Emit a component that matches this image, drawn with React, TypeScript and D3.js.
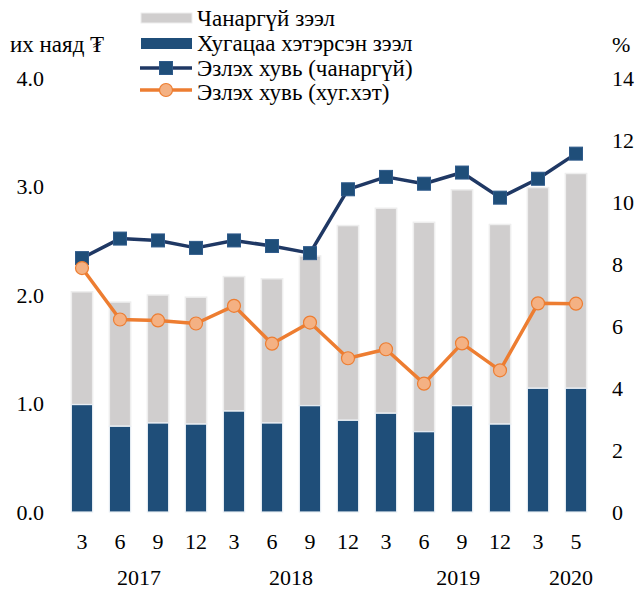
import React from "react";
import * as d3 from "d3";

const categories = ["3", "6", "9", "12", "3", "6", "9", "12", "3", "6", "9", "12", "3", "5"];
const overdue = [0.99, 0.79, 0.82, 0.81, 0.93, 0.82, 0.98, 0.845, 0.91, 0.74, 0.98, 0.81, 1.14, 1.14];
const totals = [2.03, 1.935, 2.0, 1.98, 2.17, 2.15, 2.36, 2.64, 2.8, 2.67, 2.97, 2.65, 2.99, 3.12];
const nonPerforming = totals.map((t, i) => +(t - overdue[i]).toFixed(3));
const shareNPL = [8.19, 8.82, 8.76, 8.52, 8.76, 8.58, 8.35, 10.41, 10.81, 10.59, 10.95, 10.14, 10.75, 11.56];
const shareOverdue = [7.87, 6.21, 6.18, 6.08, 6.65, 5.43, 6.11, 4.96, 5.25, 4.14, 5.44, 4.57, 6.73, 6.72];
const years = ["2017", "2018", "2019", "2020"];
const yearPos = [1.5, 5.5, 9.9, 12.87];
const leftTicks = [0, 1, 2, 3, 4];
const rightTicks = [0, 2, 4, 6, 8, 10, 12, 14];
const legendLabels = ["Чанаргүй зээл", "Хугацаа хэтэрсэн зээл", "Эзлэх хувь (чанаргүй)", "Эзлэх хувь (хуг.хэт)"];

const W = 636;
const H = 598;
const FONT = "'Liberation Serif', 'Times New Roman', serif";

export default function App() {
  const idx = categories.map((_, i) => String(i));
  const x = d3.scaleBand<string>().domain(idx).range([63, 595]).paddingInner(0.44).paddingOuter(0.22);
  const yL = d3.scaleLinear().domain([0, 4]).range([512, 78]);
  const yR = d3.scaleLinear().domain([0, 14]).range([512, 78]);
  const cx = (i: number) => (x(String(i)) as number) + x.bandwidth() / 2;
  const step = x.step();
  const xFrac = (f: number) => cx(0) + f * step;

  const lineNPL = d3.line<number>().x((_, i) => cx(i)).y((d) => yR(d));
  const lineOD = d3.line<number>().x((_, i) => cx(i)).y((d) => yR(d));

  const navy = "#1F4E79";
  const navyLine = "#1F3864";
  const gray = "#D0CECE";
  const orange = "#ED7D31";
  const orangeFill = "#F4B183";
  const sq = 13;
  const ts = { fontFamily: FONT };

  return (
    <svg width={W} height={H} style={{ position: "absolute", left: 0, top: 0, background: "#fff", fontFamily: FONT }}>
      <rect width={W} height={H} fill="#fff" />
      {categories.map((_, i) => (
        <g key={"b" + i}>
          <rect
            x={x(String(i))}
            y={yL(overdue[i] + nonPerforming[i])}
            width={x.bandwidth()}
            height={yL(overdue[i]) - yL(overdue[i] + nonPerforming[i])}
            fill={gray}
            stroke="#EEEEEE"
            strokeWidth={1.5}
          />
          <rect
            x={x(String(i))}
            y={yL(overdue[i])}
            width={x.bandwidth()}
            height={yL(0) - yL(overdue[i])}
            fill={navy}
            stroke="#E8EEF4"
            strokeWidth={1.2}
          />
        </g>
      ))}
      <path d={lineNPL(shareNPL) || ""} fill="none" stroke={navyLine} strokeWidth={3.5} strokeLinejoin="round" />
      {shareNPL.map((v, i) => (
        <rect key={"s" + i} x={cx(i) - sq / 2} y={yR(v) - sq / 2} width={sq} height={sq} fill={navy} stroke="#2E5A8A" strokeWidth={1} />
      ))}
      <path d={lineOD(shareOverdue) || ""} fill="none" stroke={orange} strokeWidth={3.5} strokeLinejoin="round" />
      {shareOverdue.map((v, i) => (
        <circle key={"c" + i} cx={cx(i)} cy={yR(v)} r={6.5} fill={orangeFill} stroke={orange} strokeWidth={1.2} />
      ))}
      {leftTicks.map((t) => (
        <text key={"l" + t} x={44} y={yL(t)} dy="0.35em" textAnchor="end" fontSize={22} fill="#000" style={ts}>
          {d3.format(".1f")(t)}
        </text>
      ))}
      {rightTicks.map((t) => (
        <text key={"r" + t} x={612} y={yR(t)} dy="0.35em" textAnchor="start" fontSize={22} fill="#000" style={ts}>
          {t}
        </text>
      ))}
      <text x={10} y={44} dy="0.35em" fontSize={23} fill="#000" style={ts}>их наяд ₮</text>
      <text x={612} y={44} dy="0.35em" fontSize={22} fill="#000" style={ts}>%</text>
      {categories.map((c, i) => (
        <text key={"x" + i} x={cx(i)} y={541} dy="0.35em" textAnchor="middle" fontSize={22} fill="#000" style={ts}>
          {c}
        </text>
      ))}
      {years.map((yv, i) => (
        <text key={"y" + yv} x={xFrac(yearPos[i])} y={577} dy="0.35em" textAnchor="middle" fontSize={22} fill="#000" style={ts}>
          {yv}
        </text>
      ))}
      <g>
        <rect x={141} y={13} width={51} height={10} fill={gray} stroke="#EEEEEE" strokeWidth={1} />
        <rect x={141} y={38} width={51} height={11} fill={navy} />
        <line x1={140} x2={192} y1={68} y2={68} stroke={navyLine} strokeWidth={3.5} />
        <rect x={166 - sq / 2} y={68 - sq / 2} width={sq} height={sq} fill={navy} stroke="#2E5A8A" strokeWidth={1} />
        <line x1={140} x2={192} y1={90} y2={90} stroke={orange} strokeWidth={3.5} />
        <circle cx={166} cy={90} r={6.5} fill={orangeFill} stroke={orange} strokeWidth={1.2} />
        {legendLabels.map((l, i) => (
          <text key={l} x={197} y={[18, 43, 68, 92][i]} dy="0.35em" fontSize={23} fill="#000" style={ts}>
            {l}
          </text>
        ))}
      </g>
    </svg>
  );
}
